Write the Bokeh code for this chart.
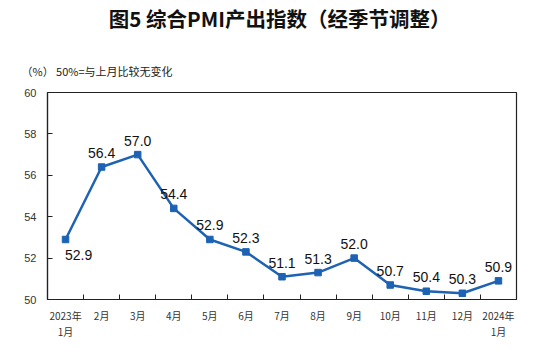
from bokeh.plotting import figure
from bokeh.models import ColumnDataSource, FixedTicker, Title, Range1d
from bokeh.embed import file_html
from bokeh.resources import INLINE
from bokeh.core.properties import value

months = ["2023年\n1月", "2月", "3月", "4月", "5月", "6月", "7月", "8月", "9月",
          "10月", "11月", "12月", "2024年\n1月"]
pmi = [52.9, 56.4, 57.0, 54.4, 52.9, 52.3, 51.1, 51.3, 52.0, 50.7, 50.4, 50.3, 50.9]
label_side = ["below"] + ["above"] * 12
y_ticks = [50, 52, 54, 56, 58, 60]

n = len(months)
xs = list(range(n))
color = "#1d62b3"

p = figure(width=526, height=343, output_backend="svg", toolbar_location=None,
           x_range=Range1d(-0.5, n - 0.5), y_range=Range1d(50, 60),
           min_border_left=47, min_border_right=10, min_border_top=92, min_border_bottom=44,
           title=None)
p.background_fill_color = "white"
p.border_fill_color = "white"
p.outline_line_color = "#222222"
p.outline_line_width = 1.2
p.xgrid.visible = False
p.ygrid.visible = False

# x axis: labels at centers, ticks at boundaries
p.xaxis.ticker = FixedTicker(ticks=xs, minor_ticks=[i + 0.5 for i in range(n - 1)])
p.xaxis.major_label_overrides = {i: m for i, m in enumerate(months)}
p.xaxis.major_tick_line_color = None
p.xaxis.minor_tick_line_color = "#222222"
p.xaxis.minor_tick_in = 5
p.xaxis.minor_tick_out = 0
p.xaxis.axis_line_color = "#222222"
p.xaxis.axis_line_width = 1.2
p.xaxis.major_label_text_font = "Noto Sans CJK SC"
p.xaxis.major_label_text_font_size = "10px"
p.xaxis.major_label_text_color = "#333333"
p.xaxis.major_label_text_line_height = 1.1
p.xaxis.major_label_standoff = 2

p.yaxis.ticker = FixedTicker(ticks=y_ticks, minor_ticks=[])
p.yaxis.major_tick_in = 5
p.yaxis.major_tick_out = 0
p.yaxis.major_tick_line_color = "#222222"
p.yaxis.axis_line_color = "#222222"
p.yaxis.axis_line_width = 1.2
p.yaxis.major_label_text_font = "Liberation Sans"
p.yaxis.major_label_text_font_size = "11px"
p.yaxis.major_label_text_color = "#333333"
p.yaxis.major_label_standoff = 11

src = ColumnDataSource(dict(x=xs, y=pmi))
p.line("x", "y", source=src, line_color=color, line_width=2.5)
p.scatter("x", "y", source=src, marker="square", size=6.5, fill_color=color, line_color=color)

above_idx = [i for i, s in enumerate(label_side) if s == "above"]
below_idx = [i for i, s in enumerate(label_side) if s == "below"]
src_a = ColumnDataSource(dict(x=[xs[i] for i in above_idx], y=[pmi[i] for i in above_idx],
                              lab=[f"{pmi[i]:.1f}" for i in above_idx]))
src_b = ColumnDataSource(dict(x=[xs[i] for i in below_idx], y=[pmi[i] for i in below_idx],
                              lab=[f"{pmi[i]:.1f}" for i in below_idx]))
p.text("x", "y", text="lab", source=src_a, text_align="center", text_baseline="bottom",
       y_offset=-9, text_font=value("Liberation Sans"), text_font_size="14px", text_color="#111111")
p.text("x", "y", text="lab", source=src_b, text_align="center", text_baseline="top",
       x_offset=13, y_offset=11, text_font=value("Liberation Sans"), text_font_size="14px", text_color="#111111")

sub = Title(text="（%） 50%=与上月比较无变化", align="left", text_font="Noto Sans CJK SC",
            text_font_size="11px", text_font_style="normal", text_color="#222222",
            offset=-26, standoff=26, vertical_align="middle")
p.add_layout(sub, "above")
main = Title(text="图5  综合PMI产出指数（经季节调整）", align="center", text_font="Noto Sans CJK SC",
             text_font_size="20.5px", text_font_style="bold", text_color="#111111", standoff=0,
             padding=(0, 0, 0, 16))
p.add_layout(main, "above")

open("out.html", "w").write(file_html(p, INLINE))
